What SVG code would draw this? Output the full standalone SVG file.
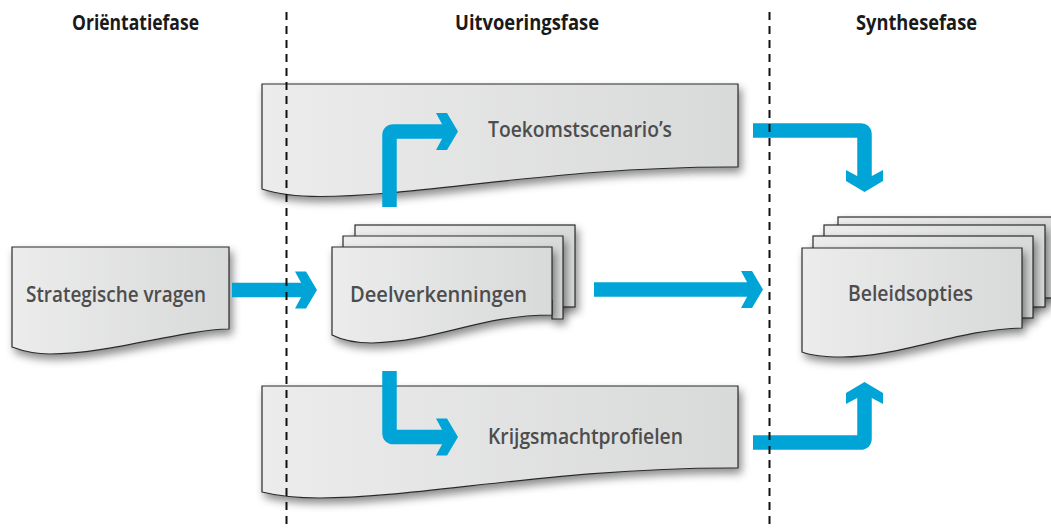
<svg xmlns="http://www.w3.org/2000/svg" width="1051" height="530" viewBox="0 0 1051 530">
<defs>
<linearGradient id="paper" x1="0" y1="0" x2="1" y2="0"><stop offset="0" stop-color="#ececec"/><stop offset="1" stop-color="#d8d9d9"/></linearGradient>
<filter id="shadow" x="-10%" y="-15%" width="125%" height="150%"><feDropShadow dx="3" dy="5" stdDeviation="4" flood-color="#000" flood-opacity="0.45"/></filter>
<marker id="head" markerUnits="userSpaceOnUse" viewBox="-23 -20 25 40" refX="-11" refY="0" markerWidth="25" markerHeight="40" orient="auto"><path d="M-22,-18.5 L-11,-18.5 L0,0 L-11,18.5 L-22,18.5 L-12,0 Z" fill="#00a4d6"/></marker>
</defs>
<style>
.doc{fill:url(#paper);stroke:#2b2b2b;stroke-width:1.2;filter:url(#shadow)}
.lbl{font-family:"Open Sans","Noto Sans",sans-serif;font-weight:600;font-size:21px;fill:#4d4d4d;text-anchor:middle}
.hdr{font-family:"Open Sans","Noto Sans",sans-serif;font-weight:700;font-size:21px;fill:#1a1a1a;text-anchor:middle}
.conn{fill:none;stroke:#00a4d6;stroke-width:14.5;stroke-linejoin:round;marker-end:url(#head)}
.phase{stroke:#111;stroke-width:2;stroke-dasharray:8 6}
</style>
<g id="node-toekomstscenarios">
<path class="doc" d="M262,84 H738 V167 C560,166 420,196.5 320,196.5 C292,196.5 274,193 262,189 Z"/>
<text class="lbl" x="580" y="137" textLength="184" lengthAdjust="spacingAndGlyphs">Toekomstscenario’s</text>
</g>
<g id="node-krijgsmachtprofielen">
<path class="doc" d="M262,386 H738 V468 C560,467 420,498 320,498 C292,498 274,495 262,492 Z"/>
<text class="lbl" x="585.5" y="444" textLength="195" lengthAdjust="spacingAndGlyphs">Krijgsmachtprofielen</text>
</g>
<g id="node-strategische-vragen">
<path class="doc" d="M12,247 H229 V329 C180,330 110,354 50,354 C32,354 20,350 12,347 Z"/>
<text class="lbl" x="116" y="301.5" textLength="180" lengthAdjust="spacingAndGlyphs">Strategische vragen</text>
</g>
<g id="node-deelverkenningen">
<rect class="doc" x="355" y="225" width="220" height="82"/>
<path class="doc" d="M343,236 H563 V319 H552 V300 H343 Z"/>
<path class="doc" d="M332,247 H552 V315 C480,315 440,341 372,343 C352,343 340,339 332,335 Z"/>
<text class="lbl" x="438.5" y="302" textLength="177" lengthAdjust="spacingAndGlyphs">Deelverkenningen</text>
</g>
<g id="node-beleidsopties">
<rect class="doc" x="838" y="217" width="222" height="81"/>
<rect class="doc" x="824" y="225" width="221" height="82"/>
<rect class="doc" x="813" y="236" width="220" height="82"/>
<path class="doc" d="M802,248 H1022 V328 C960,329 900,357 842,357 C822,357 810,355 802,352 Z"/>
<text class="lbl" x="910.5" y="301" textLength="125" lengthAdjust="spacingAndGlyphs">Beleidsopties</text>
</g>
<g id="connectors">
<path class="conn" d="M232,290 H306"/>
<path class="conn" d="M389.5,207 V135.5 Q389.5,131.5 393.5,131.5 H447"/>
<path class="conn" d="M389.5,371 V433 Q389.5,437 393.5,437 H447"/>
<path class="conn" d="M594,289.5 H752"/>
<path class="conn" d="M753,130.5 H860.5 Q864.5,130.5 864.5,134.5 V181"/>
<path class="conn" d="M753,442.5 H860.5 Q864.5,442.5 864.5,438.5 V393"/>
</g>
<g id="phase-dividers">
<line class="phase" x1="286.5" y1="12" x2="286.5" y2="530"/>
<line class="phase" x1="769.5" y1="12" x2="769.5" y2="530"/>
</g>
<g id="phase-headers">
<text class="hdr" x="135.5" y="30" textLength="127" lengthAdjust="spacingAndGlyphs">Oriëntatiefase</text>
<text class="hdr" x="527" y="30" textLength="144" lengthAdjust="spacingAndGlyphs">Uitvoeringsfase</text>
<text class="hdr" x="916.5" y="30" textLength="121" lengthAdjust="spacingAndGlyphs">Synthesefase</text>
</g>
</svg>
